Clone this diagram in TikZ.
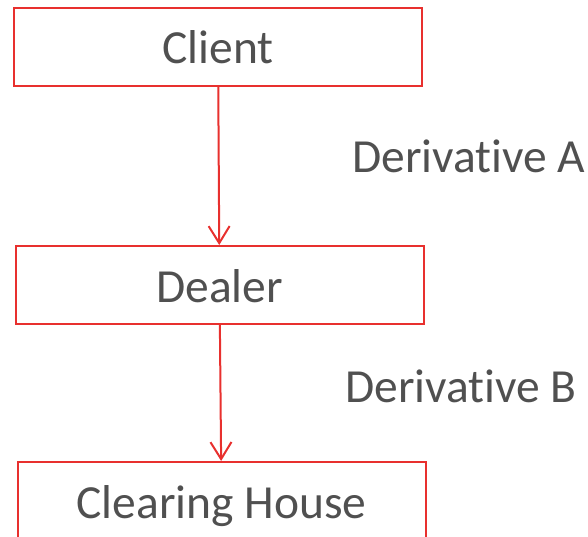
\documentclass[tikz,border=0pt]{standalone}
\usepackage{fontspec}
\setmainfont{Carlito}[Ligatures=NoCommon]
\usetikzlibrary{arrows.meta}
\definecolor{boxred}{RGB}{232,48,46}
\definecolor{txtgray}{RGB}{80,80,80}
\tikzset{
  party/.style={draw=boxred, line width=2pt, text=txtgray, minimum width=408pt, minimum height=78pt,
    inner sep=0pt, text height=34pt, text depth=0pt, font=\fontsize{47.5}{56}\selectfont},
  trade/.style={draw=boxred, line width=2pt, -{Straight Barb[length=17pt,width=21pt]}},
  deriv/.style={text=txtgray, anchor=base west, inner sep=0pt, font=\fontsize{47.5}{56}\selectfont}
}
\begin{document}
\begin{tikzpicture}[x=1pt,y=-1pt]
\useasboundingbox (0,0) rectangle (588,537);

\node [party] (client) at (218,47) {Client};
\node [party] (dealer) at (219.5,285) {Dealer};
\node [party] (house) at (221.5,501) {Clearing House};

\draw [trade] (client) -- (dealer);
\draw [trade] (dealer) -- (house);

\node [deriv] (derivA) at (352,173) {Derivative A};
\node [deriv] (derivB) at (345,402) {Derivative B};

\end{tikzpicture}
\end{document}
